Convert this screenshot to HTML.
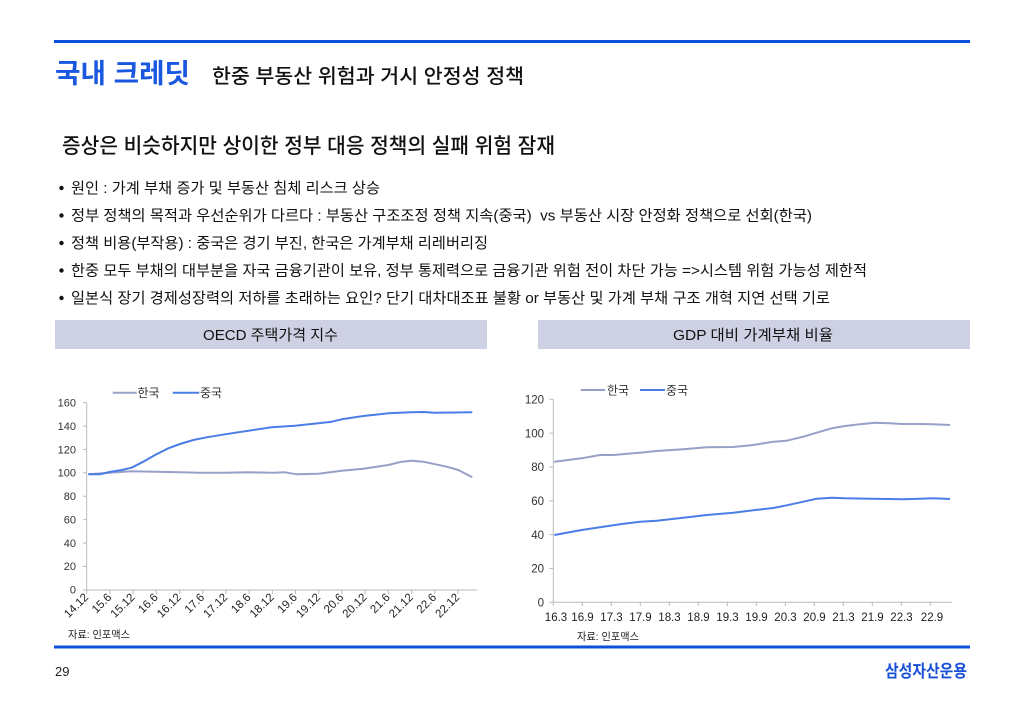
<!DOCTYPE html>
<html><head><meta charset="utf-8">
<style>
html,body{margin:0;padding:0;background:#fff;}
svg{display:block;}
text{font-family:"Liberation Sans","Noto Sans CJK KR",sans-serif;}
</style></head>
<body>
<svg width="1024" height="709" viewBox="0 0 1024 709" xmlns="http://www.w3.org/2000/svg">
<rect width="1024" height="709" fill="#fff"/>
<!-- top line -->
<rect x="54" y="40" width="916" height="3" fill="#0a50dc"/>
<text x="55" y="83" font-size="27" fill="#1a58e0" font-weight="bold" textLength="135" lengthAdjust="spacingAndGlyphs">국내 크레딧</text>
<text x="212" y="83" font-size="20" fill="#111" font-weight="500" textLength="312" lengthAdjust="spacingAndGlyphs">한중 부동산 위험과 거시 안정성 정책</text>
<text x="62" y="153" font-size="21" fill="#111" font-weight="500" textLength="493" lengthAdjust="spacingAndGlyphs">증상은 비슷하지만 상이한 정부 대응 정책의 실패 위험 잠재</text>

<!-- bullets -->
<g fill="#111" font-size="15">
<circle cx="61.5" cy="188" r="2.2"/>
<text x="71" y="193" textLength="309" lengthAdjust="spacingAndGlyphs">원인 : 가계 부채 증가 및 부동산 침체 리스크 상승</text>
<circle cx="61.5" cy="215.5" r="2.2"/>
<text x="71" y="220.5" textLength="741" lengthAdjust="spacingAndGlyphs">정부 정책의 목적과 우선순위가 다르다 : 부동산 구조조정 정책 지속(중국)&#160; vs 부동산 시장 안정화 정책으로 선회(한국)</text>
<circle cx="61.5" cy="243" r="2.2"/>
<text x="71" y="248" textLength="417" lengthAdjust="spacingAndGlyphs">정책 비용(부작용) : 중국은 경기 부진, 한국은 가계부채 리레버리징</text>
<circle cx="61.5" cy="270.5" r="2.2"/>
<text x="71" y="275.5" textLength="796" lengthAdjust="spacingAndGlyphs">한중 모두 부채의 대부분을 자국 금융기관이 보유, 정부 통제력으로 금융기관 위험 전이 차단 가능 =&gt;시스템 위험 가능성 제한적</text>
<circle cx="61.5" cy="298" r="2.2"/>
<text x="71" y="303" textLength="759" lengthAdjust="spacingAndGlyphs">일본식 장기 경제성장력의 저하를 초래하는 요인? 단기 대차대조표 불황 or 부동산 및 가계 부채 구조 개혁 지연 선택 기로</text>
</g>

<!-- header bars -->
<rect x="55" y="320" width="432" height="29" fill="#cdd1e3"/>
<rect x="538" y="320" width="432" height="29" fill="#cdd1e3"/>
<text x="203" y="340" font-size="15" fill="#111" textLength="135" lengthAdjust="spacingAndGlyphs">OECD 주택가격 지수</text>
<text x="673" y="340" font-size="15" fill="#111" textLength="160" lengthAdjust="spacingAndGlyphs">GDP 대비 가계부채 비율</text>

<!-- LEFT CHART -->
<g font-size="11" fill="#333" text-anchor="end">
<text x="76" y="406.5">160</text>
<text x="76" y="430">140</text>
<text x="76" y="453.3">120</text>
<text x="76" y="476.7">100</text>
<text x="76" y="500">80</text>
<text x="76" y="523.4">60</text>
<text x="76" y="546.8">40</text>
<text x="76" y="570.1">20</text>
<text x="76" y="593.5">0</text>
</g>
<g stroke="#bbb" stroke-width="1">
<line x1="86.7" y1="402.7" x2="86.7" y2="590"/>
<line x1="86.7" y1="590" x2="477" y2="590"/>
<line x1="83" y1="402.7" x2="86.7" y2="402.7"/>
<line x1="83" y1="426.1" x2="86.7" y2="426.1"/>
<line x1="83" y1="449.4" x2="86.7" y2="449.4"/>
<line x1="83" y1="472.8" x2="86.7" y2="472.8"/>
<line x1="83" y1="496.2" x2="86.7" y2="496.2"/>
<line x1="83" y1="519.6" x2="86.7" y2="519.6"/>
<line x1="83" y1="543" x2="86.7" y2="543"/>
<line x1="83" y1="566.4" x2="86.7" y2="566.4"/>
<line x1="83" y1="590" x2="86.7" y2="590"/>
</g>
<g stroke="#bbb" stroke-width="1">
<line x1="86.7" y1="590" x2="86.7" y2="594"/><line x1="109.9" y1="590" x2="109.9" y2="594"/><line x1="133.1" y1="590" x2="133.1" y2="594"/><line x1="156.3" y1="590" x2="156.3" y2="594"/><line x1="179.5" y1="590" x2="179.5" y2="594"/><line x1="202.7" y1="590" x2="202.7" y2="594"/><line x1="225.9" y1="590" x2="225.9" y2="594"/><line x1="249.1" y1="590" x2="249.1" y2="594"/><line x1="272.3" y1="590" x2="272.3" y2="594"/><line x1="295.5" y1="590" x2="295.5" y2="594"/><line x1="318.7" y1="590" x2="318.7" y2="594"/><line x1="341.9" y1="590" x2="341.9" y2="594"/><line x1="365.1" y1="590" x2="365.1" y2="594"/><line x1="388.3" y1="590" x2="388.3" y2="594"/><line x1="411.5" y1="590" x2="411.5" y2="594"/><line x1="434.7" y1="590" x2="434.7" y2="594"/><line x1="457.9" y1="590" x2="457.9" y2="594"/>
</g>
<g font-size="11.5" fill="#222" text-anchor="end">
<text transform="translate(89,598) rotate(-45)">14.12</text>
<text transform="translate(112.2,598) rotate(-45)">15.6</text>
<text transform="translate(135.4,598) rotate(-45)">15.12</text>
<text transform="translate(158.6,598) rotate(-45)">16.6</text>
<text transform="translate(181.8,598) rotate(-45)">16.12</text>
<text transform="translate(205,598) rotate(-45)">17.6</text>
<text transform="translate(228.2,598) rotate(-45)">17.12</text>
<text transform="translate(251.4,598) rotate(-45)">18.6</text>
<text transform="translate(274.6,598) rotate(-45)">18.12</text>
<text transform="translate(297.8,598) rotate(-45)">19.6</text>
<text transform="translate(321,598) rotate(-45)">19.12</text>
<text transform="translate(344.2,598) rotate(-45)">20.6</text>
<text transform="translate(367.4,598) rotate(-45)">20.12</text>
<text transform="translate(390.6,598) rotate(-45)">21.6</text>
<text transform="translate(413.8,598) rotate(-45)">21.12</text>
<text transform="translate(437,598) rotate(-45)">22.6</text>
<text transform="translate(460.2,598) rotate(-45)">22.12</text>
</g>
<!-- left series -->
<polyline fill="none" stroke="#98a0c8" stroke-width="2" stroke-linejoin="round" points="88.3,474.3 109.3,472.7 131.7,471.3 155,471.7 180,472.3 200,472.7 225,472.7 248.3,472.3 273.3,472.7 285,472.3 296.7,474.3 318.3,473.7 341.7,470.7 363.3,468.7 388.3,465 401.7,461.7 411.7,460.7 423.3,461.7 446.7,466.7 458.3,470 472.3,477.3"/>
<polyline fill="none" stroke="#4a7ee6" stroke-width="2" stroke-linejoin="round" points="88.3,474.3 100,474.3 109.3,472 121.7,470 131.7,467.7 143.3,461.7 155,455 168.3,448.3 180,444 193.3,440 206.7,437.3 225,434.3 248.3,430.7 271.7,427.3 295,425.7 318.3,423.3 331.7,421.7 341.7,419.3 363.3,416 388.3,413.3 410,412.3 423.3,412 435,412.7 472.3,412.3"/>
<!-- left legend -->
<line x1="112.7" y1="392.7" x2="136.7" y2="392.7" stroke="#98a0c8" stroke-width="2"/>
<text x="137.5" y="397" font-size="12" fill="#333">한국</text>
<line x1="172.7" y1="392.7" x2="199.3" y2="392.7" stroke="#4a7ee6" stroke-width="2"/>
<text x="200" y="397" font-size="12" fill="#333">중국</text>
<text x="68" y="638" font-size="10.5" fill="#222" textLength="62" lengthAdjust="spacingAndGlyphs">자료: 인포맥스</text>

<!-- RIGHT CHART -->
<g font-size="11.5" fill="#333" text-anchor="end">
<text x="544" y="403.5">120</text>
<text x="544" y="437.3">100</text>
<text x="544" y="471.2">80</text>
<text x="544" y="505">60</text>
<text x="544" y="538.8">40</text>
<text x="544" y="572.7">20</text>
<text x="544" y="606.5">0</text>
</g>
<g stroke="#bbb" stroke-width="1">
<line x1="553.3" y1="399.3" x2="553.3" y2="602.3"/>
<line x1="553.3" y1="602.3" x2="952" y2="602.3"/>
<line x1="549.5" y1="399.3" x2="553.3" y2="399.3"/>
<line x1="549.5" y1="433.1" x2="553.3" y2="433.1"/>
<line x1="549.5" y1="467" x2="553.3" y2="467"/>
<line x1="549.5" y1="500.8" x2="553.3" y2="500.8"/>
<line x1="549.5" y1="534.6" x2="553.3" y2="534.6"/>
<line x1="549.5" y1="568.5" x2="553.3" y2="568.5"/>
<line x1="549.5" y1="602.3" x2="553.3" y2="602.3"/>
<line x1="553.3" y1="602.3" x2="553.3" y2="606"/><line x1="582.3" y1="602.3" x2="582.3" y2="606"/><line x1="611.3" y1="602.3" x2="611.3" y2="606"/><line x1="640.3" y1="602.3" x2="640.3" y2="606"/><line x1="669.3" y1="602.3" x2="669.3" y2="606"/><line x1="698.3" y1="602.3" x2="698.3" y2="606"/><line x1="727.3" y1="602.3" x2="727.3" y2="606"/><line x1="756.3" y1="602.3" x2="756.3" y2="606"/><line x1="785.3" y1="602.3" x2="785.3" y2="606"/><line x1="814.3" y1="602.3" x2="814.3" y2="606"/><line x1="843.3" y1="602.3" x2="843.3" y2="606"/><line x1="872.3" y1="602.3" x2="872.3" y2="606"/><line x1="901.3" y1="602.3" x2="901.3" y2="606"/><line x1="930.3" y1="602.3" x2="930.3" y2="606"/>
</g>
<g font-size="11.5" fill="#222" text-anchor="middle">
<text x="556" y="621">16.3</text>
<text x="582.5" y="621">16.9</text>
<text x="611.5" y="621">17.3</text>
<text x="640.5" y="621">17.9</text>
<text x="669.5" y="621">18.3</text>
<text x="698.5" y="621">18.9</text>
<text x="727.5" y="621">19.3</text>
<text x="756.5" y="621">19.9</text>
<text x="785.5" y="621">20.3</text>
<text x="814.5" y="621">20.9</text>
<text x="843.5" y="621">21.3</text>
<text x="872.5" y="621">21.9</text>
<text x="901.5" y="621">22.3</text>
<text x="932" y="621">22.9</text>
</g>
<polyline fill="none" stroke="#98a0c8" stroke-width="2" stroke-linejoin="round" points="554.3,461.7 581.7,458.3 600,455 613.3,455 640,452.7 656.7,451 683.3,449.3 706.7,447.3 733.3,447 753.3,445 773.3,441.7 786.7,440.7 803.3,436.7 816.7,432.7 831.7,428.3 845,426 860,424.3 875,422.7 890,423.3 901.7,424 920,424 933.3,424.3 950,425"/>
<polyline fill="none" stroke="#4a7ee6" stroke-width="2" stroke-linejoin="round" points="554.3,535 581.7,530 600,527.3 620,524.3 640,521.7 656.7,520.7 683.3,517.7 706.7,515 733.3,512.7 753.3,510.3 773.3,508 786.7,505.3 803.3,501.7 816.7,498.7 831.7,497.7 845,498.3 870,498.7 886.7,499 903.3,499.3 920,498.7 933.3,498.3 950,499"/>
<line x1="580.7" y1="390" x2="605" y2="390" stroke="#98a0c8" stroke-width="2"/>
<text x="607" y="394.5" font-size="12" fill="#333">한국</text>
<line x1="640" y1="390" x2="665" y2="390" stroke="#4a7ee6" stroke-width="2"/>
<text x="666" y="394.5" font-size="12" fill="#333">중국</text>
<text x="577" y="640" font-size="10.5" fill="#222" textLength="62" lengthAdjust="spacingAndGlyphs">자료: 인포맥스</text>

<!-- bottom -->
<rect x="54" y="645.5" width="916" height="3" fill="#0a50dc"/>
<text x="55" y="676" font-size="13" fill="#222">29</text>
<text x="885" y="677" font-size="17" font-weight="bold" fill="#1a50d8" textLength="82" lengthAdjust="spacingAndGlyphs">삼성자산운용</text>
</svg>
</body></html>
